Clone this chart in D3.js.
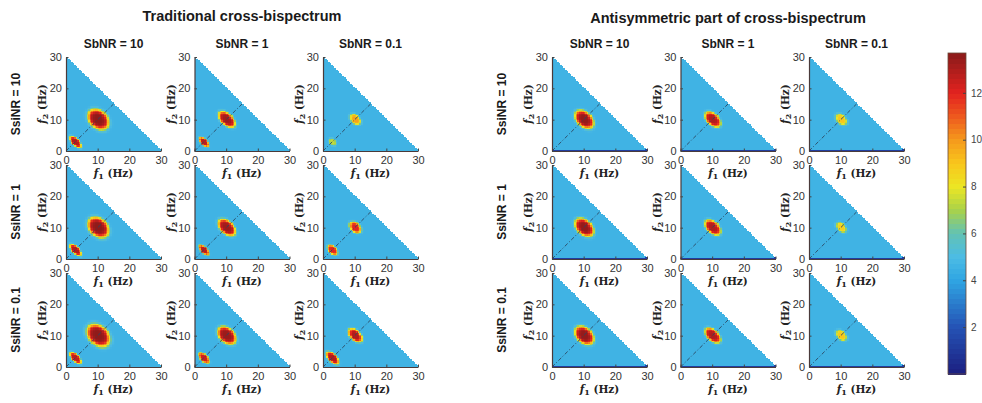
<!DOCTYPE html>
<html>
<head>
<meta charset="UTF-8" />
<title>Cross-bispectrum</title>
<script src="https://cdn.jsdelivr.net/npm/d3@7/dist/d3.min.js"></script>
<style>
  body { margin: 0; background: #fff; }
  text { font-family: "Liberation Sans", Arial, sans-serif; }
</style>
</head>
<body>
<svg id="chart" width="982" height="403"></svg>
<script>
// ---- data ----
var groupTitles = ["Traditional cross-bispectrum", "Antisymmetric part of cross-bispectrum"]
var sbnrLabels = ["SbNR = 10", "SbNR = 1", "SbNR = 0.1"]
var ssinrLabels = ["SsiNR = 10", "SsiNR = 1", "SsiNR = 0.1"]
var freqTicks = [0, 10, 20, 30]
var colorTicks = [2, 4, 6, 8, 10, 12]
var colorMax = 13.7
var backgroundLevel = 4.6
var antiFloorLevel = 1.2   // f2 = 0 row of the antisymmetric part

// blob centres (f1, f2) in Hz
var largeCentre = [10.2, 10.2]
var smallCentre = [3, 3]
// [peak, half length along f1+f2=const, half width along f1=f2], rows = SsiNR, cols = SbNR
var tradLarge = [
  [[13.6, 3.8, 2.8], [13.3, 3.2, 1.8], [9.8, 2.1, 1.4]],
  [[13.6, 3.8, 2.8], [13.3, 3.3, 2.0], [12.0, 2.2, 1.5]],
  [[13.6, 4.2, 3.0], [13.4, 3.4, 2.3], [13.0, 2.7, 1.6]]
]
var tradSmall = [
  [[13.0, 2.4, 1.1], [12.8, 2.0, 1.0], [7.4, 1.4, 1.0]],
  [[13.0, 2.4, 1.1], [12.8, 2.1, 1.0], [12.0, 2.0, 1.2]],
  [[12.8, 2.4, 1.1], [12.5, 2.2, 1.1], [13.0, 2.6, 1.3]]
]
var antiLarge = [
  [[13.5, 3.5, 2.3], [13.0, 3.0, 1.8], [9.0, 2.2, 1.5]],
  [[13.5, 3.5, 2.3], [13.0, 3.0, 1.8], [8.8, 2.0, 1.3]],
  [[13.5, 3.5, 2.4], [13.0, 3.0, 1.7], [9.0, 2.1, 1.4]]
]

// ---- layout ----
var svg = d3.select("#chart")
var pw = 95, ph = 94
var groupX = [66, 552]
var colStep = 128.5
var rowTop = [57, 165, 273]
var cellStep = 0.5

var color = d3.scaleLinear()
  .domain([0, 2, 4, 5, 6, 7, 8, 9, 10, 11, 12, colorMax])
  .range(["#1c1f80", "#2553b5", "#2fa5e3", "#4cbce4", "#62c2b4", "#a8d24a",
          "#ece624", "#f8c61c", "#f59a1c", "#ee5a1e", "#e3231f", "#8a1a1a"])
  .clamp(true)

function blobValue(f1, f2, centre, b) {
  var dx = f1 - centre[0], dy = f2 - centre[1]
  var u = (dx - dy) / Math.SQRT2
  var w = (dx + dy) / Math.SQRT2
  var r = Math.sqrt(Math.pow(u / b[1], 2) + Math.pow(w / b[2], 2))
  return backgroundLevel + (b[0] - backgroundLevel) * Math.exp(-Math.pow(r, 5))
}

function panelCells(g, r, c) {
  var cells = []
  for (var i = 0; i * cellStep < 30; i++) {
    for (var j = 0; i * cellStep + j * cellStep < 30; j++) {
      var f1 = i * cellStep, f2 = j * cellStep
      var fc1 = f1 + cellStep / 2, fc2 = f2 + cellStep / 2
      var v = backgroundLevel
      if (g == 0) {
        v = Math.max(v, blobValue(fc1, fc2, largeCentre, tradLarge[r][c]))
        v = Math.max(v, blobValue(fc1, fc2, smallCentre, tradSmall[r][c]))
      } else {
        v = Math.max(v, blobValue(fc1, fc2, largeCentre, antiLarge[r][c]))
        if (j == 0) v = antiFloorLevel
      }
      cells.push({f1: f1, f2: f2, v: v})
    }
  }
  return cells
}

function freqLabel(sel, sub) {
  sel.append("tspan").style("font-style", "italic").text("f")
  sel.append("tspan").attr("dy", 2).style("font-size", "8px").text(sub)
  sel.append("tspan").attr("dy", -2).text(" (Hz)")
}

var xScale = d3.scaleLinear().domain([0, 30]).range([0, pw])
var yScale = d3.scaleLinear().domain([0, 30]).range([ph, 0])

for (var g = 0; g < 2; g++) {
  var gx = groupX[g]
  svg.append("text")
    .attr("x", gx + colStep + pw / 2)
    .attr("y", g == 0 ? 21 : 23)
    .attr("text-anchor", "middle")
    .style("font-size", "14.5px").style("font-weight", "bold").style("fill", "#1a1a1a")
    .text(groupTitles[g])

  sbnrLabels.forEach(function (lab, c) {
    svg.append("text")
      .attr("x", gx + c * colStep + pw / 2)
      .attr("y", 48)
      .attr("text-anchor", "middle")
      .style("font-size", "12px").style("font-weight", "bold").style("fill", "#1a1a1a")
      .text(lab)
  })

  ssinrLabels.forEach(function (lab, r) {
    svg.append("text")
      .attr("transform", "translate(" + (gx - 46) + "," + (rowTop[r] + ph / 2) + ") rotate(-90)")
      .attr("text-anchor", "middle")
      .style("font-size", "12px").style("font-weight", "bold").style("fill", "#1a1a1a")
      .text(lab)
  })

  for (var r = 0; r < 3; r++) {
    for (var c = 0; c < 3; c++) {
      var panel = svg.append("g")
        .attr("transform", "translate(" + (gx + c * colStep) + "," + rowTop[r] + ")")

      panel.append("g").selectAll("rect")
        .data(panelCells(g, r, c))
        .enter()
        .append("rect")
          .attr("x", d => xScale(d.f1))
          .attr("y", d => yScale(d.f2 + cellStep))
          .attr("width", xScale(cellStep) - xScale(0) + 0.4)
          .attr("height", yScale(0) - yScale(cellStep) + 0.4)
          .attr("fill", d => color(d.v))
          .attr("shape-rendering", "crispEdges")

      panel.append("line")
        .attr("x1", xScale(0)).attr("y1", yScale(0))
        .attr("x2", xScale(15)).attr("y2", yScale(15))
        .attr("stroke", "#2b4660")
        .attr("stroke-width", 0.9)
        .attr("stroke-dasharray", "4,2,1,2")

      var xAxis = d3.axisBottom(xScale).tickValues(freqTicks)
        .tickSizeInner(-2.5).tickSizeOuter(0).tickPadding(5)
      var yAxis = d3.axisLeft(yScale).tickValues(freqTicks)
        .tickSizeInner(-2.5).tickSizeOuter(0).tickPadding(4)

      var xg = panel.append("g").attr("transform", "translate(0," + ph + ")").call(xAxis)
      var yg = panel.append("g").call(yAxis)
      ;[xg, yg].forEach(function (ax) {
        ax.select(".domain").attr("stroke", "#4a3a3a").attr("stroke-width", 1.2)
        ax.selectAll(".tick line").attr("stroke", "#444")
        ax.selectAll(".tick text")
          .style("font-family", "Liberation Sans, Arial, sans-serif")
          .style("font-size", "11px").style("fill", "#333")
      })

      panel.append("text")
        .attr("x", pw / 2).attr("y", ph + 26)
        .attr("text-anchor", "middle")
        .style("font-family", "DejaVu Serif, serif")
        .style("font-size", "10.5px").style("font-weight", "bold").style("fill", "#222")
        .call(freqLabel, "1")

      panel.append("text")
        .attr("transform", "translate(-20," + (ph / 2) + ") rotate(-90)")
        .attr("text-anchor", "middle")
        .style("font-family", "DejaVu Serif, serif")
        .style("font-size", "10.5px").style("font-weight", "bold").style("fill", "#222")
        .call(freqLabel, "2")
    }
  }
}

// ---- colour bar ----
var cbX = 948, cbW = 18, cbTop = 53, cbBottom = 374
var cbScale = d3.scaleLinear().domain([0, colorMax]).range([cbBottom, cbTop])
var levels = d3.range(0, 64).map(k => k * colorMax / 64)
svg.append("g").selectAll("rect")
  .data(levels)
  .enter()
  .append("rect")
    .attr("x", cbX)
    .attr("y", d => cbScale(d + colorMax / 64))
    .attr("width", cbW)
    .attr("height", cbScale(0) - cbScale(colorMax / 64) + 0.5)
    .attr("fill", d => color(d + colorMax / 128))
    .attr("shape-rendering", "crispEdges")

svg.append("rect")
  .attr("x", cbX).attr("y", cbTop).attr("width", cbW).attr("height", cbBottom - cbTop)
  .attr("fill", "none").attr("stroke", "#6a4a3a").attr("stroke-width", 0.8)

var cbAxis = d3.axisRight(cbScale).tickValues(colorTicks).tickSizeInner(-3).tickSizeOuter(0).tickPadding(5)
var cbg = svg.append("g").attr("transform", "translate(" + (cbX + cbW) + ",0)").call(cbAxis)
cbg.select(".domain").remove()
cbg.selectAll(".tick line").attr("stroke", "#444")
cbg.selectAll(".tick text")
  .style("font-family", "Liberation Sans, Arial, sans-serif")
  .style("font-size", "10px").style("fill", "#444")
</script>
</body>
</html>
